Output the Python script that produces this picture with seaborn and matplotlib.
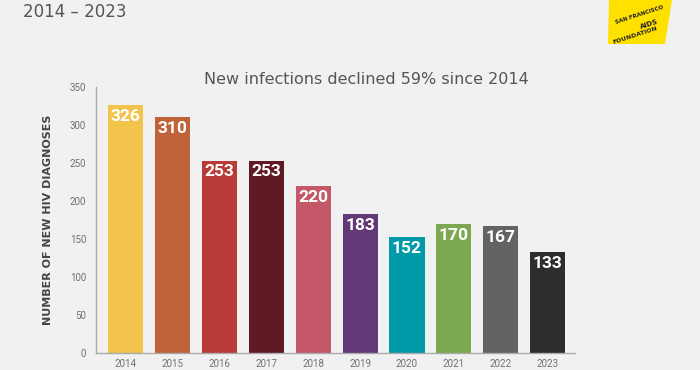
import numpy as np
import pandas as pd
import matplotlib.pyplot as plt
import seaborn as sns
from matplotlib.patches import Polygon

# =========================
# Data
# =========================
years = ["2014", "2015", "2016", "2017", "2018", "2019", "2020", "2021", "2022", "2023"]
diagnoses = [326, 310, 253, 253, 220, 183, 152, 170, 167, 133]
bar_colors = ["#f2c44c", "#c06338", "#b93b37", "#601a24", "#c45869",
              "#633878", "#0099a8", "#7da852", "#636363", "#2d2d2d"]
y_ticks = [0, 50, 100, 150, 200, 250, 300, 350]

bg = "#f0f1f0"

df = pd.DataFrame({"year": years, "count": diagnoses})

# =========================
# Figure
# =========================
sns.set_style("white")
plt.rcParams["font.family"] = ["DejaVu Sans"]

fig = plt.figure(figsize=(7, 3.7), dpi=100, facecolor=bg)
ax = fig.add_axes([0.137, 0.046, 0.684, 0.719], facecolor=bg)

sns.barplot(data=df, x="year", y="count", hue="year", palette=bar_colors,
            legend=False, width=0.75, saturation=1, edgecolor="none",
            linewidth=0, ax=ax)

# value labels inside the top of each bar
for i, v in enumerate(diagnoses):
    ax.text(i, v - 5, str(v), ha="center", va="top", color="white",
            fontsize=12.5, fontweight="bold", family="Roboto")

ax.set_xlim(-0.64, 9.58)
ax.set_ylim(0, 350)
ax.set_yticks(y_ticks)

ax.set_xlabel("")
ax.set_ylabel("NUMBER OF NEW HIV DIAGNOSES", fontsize=8, fontweight="bold",
              color="#444444", labelpad=12)

ax.tick_params(axis="y", length=5, width=0.8, color="#aaaaaa",
               labelsize=7, labelcolor="#707070", pad=2)
ax.tick_params(axis="x", length=0, labelsize=7, labelcolor="#707070", pad=4)
for lbl in ax.get_xticklabels() + ax.get_yticklabels():
    lbl.set_family("Roboto")

sns.despine(ax=ax)
for side in ["left", "bottom"]:
    ax.spines[side].set_color("#aaaaaa")
    ax.spines[side].set_linewidth(1.0)

# =========================
# Titles
# =========================
fig.text(0.524, 0.786, "New infections declined 59% since 2014", ha="center",
         va="center", fontsize=11.5, color="#555555")
fig.text(0.033, 0.968, "2014 – 2023", ha="left", va="center",
         fontsize=12, color="#555555")

# =========================
# Logo block
# =========================
logo = Polygon([[609 / 700, 1], [672 / 700, 1], [665 / 700, 1 - 44 / 370],
                [608 / 700, 1 - 44 / 370]], closed=True,
               transform=fig.transFigure, facecolor="#ffe100",
               edgecolor="none")
fig.patches.append(logo)
for tx, ty, s, fs in [(0.913, 0.96, "SAN FRANCISCO", 4),
                      (0.928, 0.935, "AIDS", 5),
                      (0.908, 0.905, "FOUNDATION", 4.5)]:
    t = fig.text(tx, ty, s, ha="center", va="center", fontsize=fs,
                 fontweight="bold", color="#222222", rotation=18)
    t.set_clip_path(logo)

fig.savefig("out.png", dpi=100, facecolor=bg)
